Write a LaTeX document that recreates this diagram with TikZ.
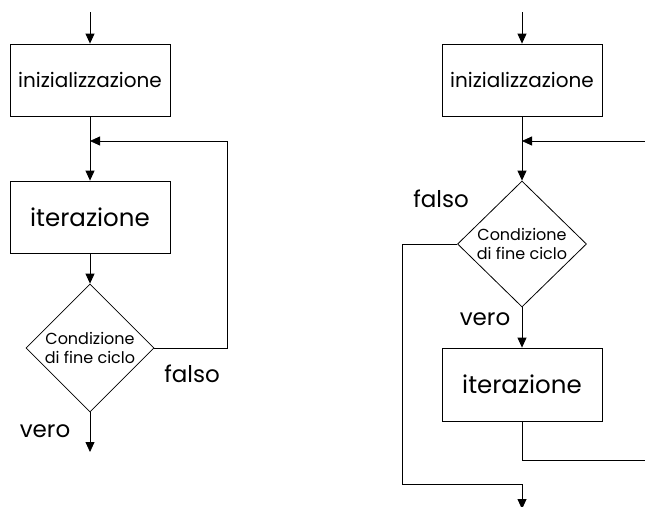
\documentclass[tikz,border=0pt]{standalone}
\usepackage{fontspec}
\setmainfont{Poppins}
\usetikzlibrary{shapes.geometric,arrows.meta}
\tikzset{
  proc/.style={draw, line width=0.8pt, minimum width=160pt, minimum height=72pt, inner sep=0pt},
  cond/.style={draw, diamond, line width=0.8pt, minimum width=128pt, minimum height=128pt, inner sep=0pt, align=center, font=\fontsize{16}{19}\selectfont},
  flow/.style={line width=0.8pt, -{Triangle[length=10pt,width=9pt]}},
  wire/.style={line width=0.8pt},
  lbl/.style={inner sep=0pt, font=\fontsize{23}{25}\selectfont},
}
\begin{document}
\begin{tikzpicture}[x=1pt,y=-1pt]
\useasboundingbox (0,0) rectangle (645,506);
\clip (0,0) rectangle (645,506);
% ---------- left: do-while ----------
\coordinate (s1) at (90,12);
\node[proc, font=\fontsize{20}{23}\selectfont] (init1) at (90,80) {inizializzazione};
\coordinate (e1) at (90,141);
\node[proc, font=\fontsize{24.5}{27}\selectfont] (iter1) at (90,217) {iterazione};
\node[cond] (cond1) at (90,348) {Condizione\\di fine ciclo};
\coordinate (r1) at (227,348);
\coordinate (r1t) at (227,141);
\coordinate (end1) at (90,452);
\draw[flow] (s1) -- (init1.north);
\draw[wire] (init1.south) -- (e1);
\draw[flow] (e1) -- (iter1.north);
\draw[flow] (iter1.south) -- (cond1.north);
\draw[flow] (cond1.east) -- (r1) -- (r1t) -- (e1);
\draw[flow] (cond1.south) -- (end1);
\node[lbl] (f1) at (192,374) {falso};
\node[lbl] (v1) at (45,431) {vero};
% ---------- right: while ----------
\coordinate (s2) at (522,12);
\node[proc, font=\fontsize{20}{23}\selectfont] (init2) at (522,80) {inizializzazione};
\coordinate (e2) at (522,141);
\node[cond, minimum width=129pt, minimum height=126pt] (cond2) at (522,244) {Condizione\\di fine ciclo};
\node[proc, minimum height=73pt, font=\fontsize{24.5}{27}\selectfont] (iter2) at (522,384.5) {iterazione};
\coordinate (b2) at (522,460.7);
\coordinate (br2) at (650,460.7);
\coordinate (tr2) at (650,141);
\coordinate (l2) at (402,244);
\coordinate (lb2) at (402,484);
\coordinate (m2) at (522,484);
\coordinate (end2) at (522,509);
\draw[flow] (s2) -- (init2.north);
\draw[wire] (init2.south) -- (e2);
\draw[flow] (e2) -- (cond2.north);
\draw[flow] (cond2.south) -- (iter2.north);
\draw[flow] (iter2.south) -- (b2) -- (br2) -- (tr2) -- (e2);
\draw[flow] (cond2.west) -- (l2) -- (lb2) -- (m2) -- (end2);
\node[lbl] (f2) at (441,199) {falso};
\node[lbl] (v2) at (485,319) {vero};
\end{tikzpicture}
\end{document}
